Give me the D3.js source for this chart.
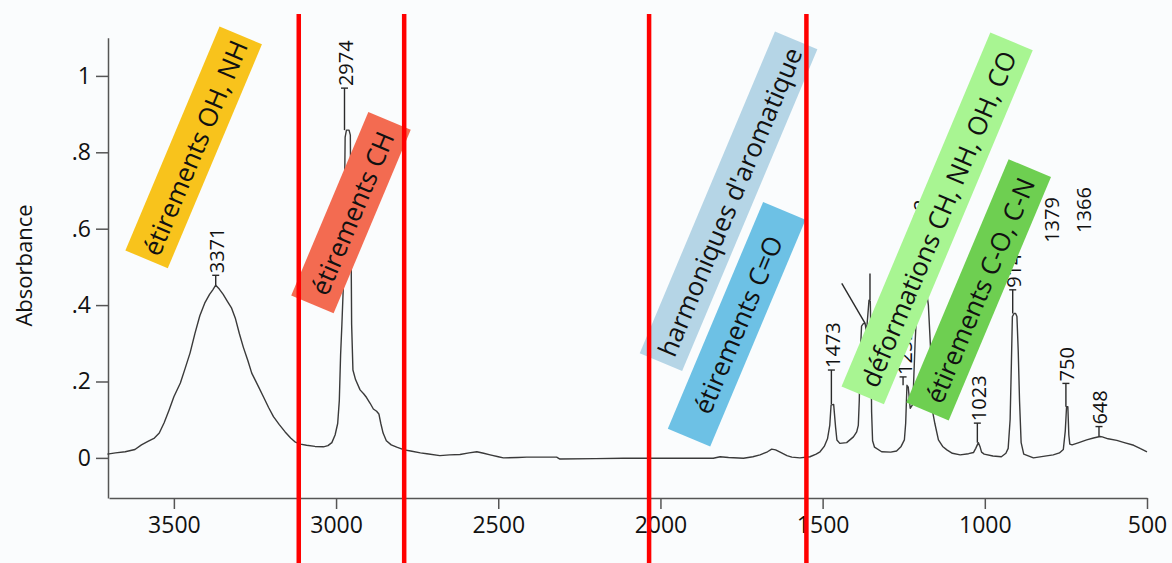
<!DOCTYPE html>
<html>
<head>
<meta charset="utf-8">
<script src="https://cdn.jsdelivr.net/npm/d3@7"></script>
<style>
  html, body { margin: 0; padding: 0; background: #fafcfd; }
  svg { display: block; font-family: "Open Sans", "DejaVu Sans", sans-serif; }
</style>
</head>
<body>
<svg id="chart" width="1172" height="563"></svg>
<script>
// IR spectrum: wavenumber (cm-1) and absorbance
const wavenumbers = [
  3705, 3680, 3650, 3620, 3600, 3580, 3560, 3545, 3530, 3515, 3500, 3480, 3465, 3450, 3435, 3420,
  3405, 3390, 3380, 3371, 3360, 3348, 3335, 3322, 3310, 3298, 3286, 3272, 3260, 3240, 3224, 3208,
  3193, 3175, 3157, 3140, 3127, 3110, 3091, 3065, 3039, 3025, 3013, 3003, 2995, 2990, 2986, 2982,
  2978, 2975, 2972, 2968, 2960, 2956, 2954, 2952, 2948, 2940, 2926, 2915, 2906, 2895, 2885, 2875,
  2868, 2862, 2855, 2845, 2830, 2813, 2790, 2770, 2740, 2720, 2680, 2650, 2618, 2590, 2566, 2545,
  2525, 2500, 2484, 2440, 2412, 2320, 2310, 2200, 2114, 2000, 1900, 1837, 1816, 1790, 1744, 1715,
  1693, 1670, 1657, 1645, 1631, 1610, 1595, 1570, 1539, 1520, 1508, 1495, 1485, 1478, 1474, 1466,
  1460, 1456, 1447, 1426, 1405, 1395, 1390, 1387, 1384, 1380, 1374, 1369, 1365, 1361, 1357, 1353,
  1351, 1349, 1346, 1340, 1318, 1290, 1272, 1258, 1248, 1244, 1240, 1236, 1230, 1222, 1215, 1205,
  1195, 1185, 1174, 1165, 1160, 1154, 1143, 1130, 1117, 1100, 1076, 1050, 1035, 1028, 1020, 1015,
  1010, 1002, 975, 949, 935, 928, 922, 918, 915, 910, 905, 901, 897, 893, 888, 880,
  850, 820, 789, 770, 758, 752, 748, 744, 741, 738, 731, 710, 686, 665, 645, 638,
  620, 593, 570, 541, 520, 500
];
const absorbance = [
  0.010, 0.013, 0.016, 0.022, 0.034, 0.043, 0.052, 0.065, 0.092, 0.125, 0.160, 0.196, 0.235, 0.275, 0.326, 0.372,
  0.405, 0.428, 0.440, 0.452, 0.442, 0.428, 0.410, 0.392, 0.364, 0.325, 0.290, 0.255, 0.222, 0.188, 0.160, 0.132,
  0.108, 0.087, 0.068, 0.052, 0.042, 0.036, 0.033, 0.030, 0.029, 0.032, 0.040, 0.060, 0.090, 0.150, 0.270, 0.350,
  0.440, 0.600, 0.840, 0.858, 0.858, 0.845, 0.600, 0.350, 0.230, 0.205, 0.178, 0.168, 0.158, 0.143, 0.128, 0.122,
  0.115, 0.090, 0.065, 0.045, 0.034, 0.028, 0.021, 0.018, 0.013, 0.011, 0.006, 0.008, 0.009, 0.013, 0.016, 0.012,
  0.008, 0.003, 0.000, 0.001, 0.002, 0.002, -0.003, -0.002, -0.001, -0.001, -0.001, -0.001, 0.003, 0.001, -0.001, 0.003,
  0.008, 0.016, 0.023, 0.021, 0.015, 0.006, 0.002, 0.000, 0.003, 0.010, 0.016, 0.030, 0.050, 0.085, 0.138, 0.140,
  0.080, 0.047, 0.038, 0.040, 0.055, 0.068, 0.085, 0.150, 0.270, 0.345, 0.352, 0.352, 0.330, 0.370, 0.413, 0.410,
  0.300, 0.120, 0.045, 0.028, 0.016, 0.015, 0.018, 0.030, 0.047, 0.090, 0.190, 0.185, 0.130, 0.140, 0.300, 0.470,
  0.490, 0.470, 0.400, 0.250, 0.117, 0.090, 0.047, 0.030, 0.021, 0.012, 0.008, 0.011, 0.014, 0.025, 0.040, 0.030,
  0.015, 0.010, 0.005, 0.003, 0.012, 0.025, 0.100, 0.250, 0.370, 0.378, 0.378, 0.370, 0.280, 0.150, 0.040, 0.010,
  0.000, 0.004, 0.008, 0.013, 0.022, 0.070, 0.134, 0.134, 0.060, 0.036, 0.034, 0.040, 0.047, 0.052, 0.056, 0.055,
  0.050, 0.046, 0.040, 0.033, 0.024, 0.016
];

// Axis ticks
const xTickValues = [3500, 3000, 2500, 2000, 1500, 1000, 500];
const yTickValues = [0, 0.2, 0.4, 0.6, 0.8, 1];
const yTickLabels = ["0", ".2", ".4", ".6", ".8", "1"];

// Labelled peaks: wavenumber, peak absorbance, top of the leader line
const peakLabels = ["3371", "2974", "1473", "1252", "1202", "1023", "914", "750", "648"];
const peakWavenumbers = [3371, 2974, 1473, 1252, 1202, 1023, 914, 750, 648];
const peakAbsorbance = [0.452, 0.858, 0.140, 0.190, 0.490, 0.040, 0.378, 0.134, 0.056];
const leaderTops = [0.478, 0.968, 0.230, 0.212, 0.552, 0.091, 0.440, 0.195, 0.082];

// Doublet labels set apart from their peaks
const doubletLabels = ["1379", "1366"];
const doubletAnchors = [[794, 0.563], [697, 0.589]];
const doubletLeaders = [[[1369, 0.352], [1441, 0.457]], [[1354, 0.413], [1354, 0.483]]];

// Region boundaries (cm-1)
const regionBounds = [3115, 2790, 2035, 1550];

// Band assignments: text, centre (wavenumber, absorbance), box length
const bandTexts = [
  "étirements OH, NH", "étirements CH", "harmoniques d'aromatique",
  "étirements C=O", "déformations CH, NH, OH, CO", "étirements C-O, C-N"
];
const bandCentres = [[3439, 0.813], [2954, 0.642], [1790, 0.672], [1765, 0.350], [1147, 0.627], [1019, 0.440]];
const bandLengths = [243, 199, 349, 246, 384, 264];
const bandColors = ["#f8c31c", "#f36b51", "#b5d5e6", "#6dc1e5", "#a8f592", "#6ecf51"];

const W = 1172, H = 563;
const svg = d3.select("#chart");

const x = d3.scaleLinear().domain([3700, 500]).range([109, 1147]);
const y = d3.scaleLinear().domain([-0.105, 1.1]).range([498, 37.7]);

// Axes
const axisColor = "#555";
const xAxis = svg.append("g")
  .attr("transform", `translate(0,${y(-0.105)})`)
  .call(d3.axisBottom(x).tickValues(xTickValues).tickFormat(d3.format("d"))
    .tickSize(11).tickSizeOuter(0).tickPadding(8));
const yAxis = svg.append("g")
  .attr("transform", `translate(${x(3700) - 1},0)`)
  .call(d3.axisLeft(y).tickValues(yTickValues).tickFormat((d, i) => yTickLabels[i])
    .tickSize(12).tickSizeOuter(0).tickPadding(5));
[xAxis, yAxis].forEach(g => {
  g.selectAll("path.domain").attr("stroke", axisColor).attr("stroke-width", 1.5);
  g.selectAll(".tick line").attr("stroke", axisColor).attr("stroke-width", 1.5);
  g.selectAll(".tick text").attr("fill", "#111").style("font-size", "23px")
    .style("font-family", "'Open Sans', sans-serif");
});

svg.append("text")
  .attr("transform", "translate(23,265.5) rotate(-90)")
  .attr("text-anchor", "middle")
  .attr("dominant-baseline", "central")
  .style("font-size", "22px")
  .attr("fill", "#111")
  .text("Absorbance");

// Spectrum
const spectrum = wavenumbers.map((w, i) => [w, absorbance[i]]);
svg.append("path")
  .datum(spectrum)
  .attr("fill", "none")
  .attr("stroke", "#3a3a3a")
  .attr("stroke-width", 1.4)
  .attr("stroke-linejoin", "round")
  .attr("d", d3.line().x(d => x(d[0])).y(d => y(d[1])));

// Peak leaders and labels
const ink = "#2a2a2a";
const peaks = svg.append("g");
peakLabels.forEach((lab, i) => {
  const px = x(peakWavenumbers[i]);
  peaks.append("line")
    .attr("x1", px).attr("x2", px)
    .attr("y1", y(peakAbsorbance[i])).attr("y2", y(leaderTops[i]))
    .attr("stroke", ink).attr("stroke-width", 1.4);
  peaks.append("line")
    .attr("x1", px - 3.5).attr("x2", px + 3.5)
    .attr("y1", y(leaderTops[i])).attr("y2", y(leaderTops[i]))
    .attr("stroke", ink).attr("stroke-width", 1.4);
  peaks.append("text")
    .attr("transform", `translate(${px + 1},${y(leaderTops[i]) - 2}) rotate(-90)`)
    .attr("dominant-baseline", "central")
    .style("font-size", "20px")
    .attr("fill", "#111")
    .text(lab);
});
doubletLeaders.forEach(seg => {
  peaks.append("line")
    .attr("x1", x(seg[0][0])).attr("y1", y(seg[0][1]))
    .attr("x2", x(seg[1][0])).attr("y2", y(seg[1][1]))
    .attr("stroke", ink).attr("stroke-width", 1.4);
});
doubletLabels.forEach((lab, i) => {
  peaks.append("text")
    .attr("transform", `translate(${x(doubletAnchors[i][0])},${y(doubletAnchors[i][1])}) rotate(-90)`)
    .attr("dominant-baseline", "central")
    .style("font-size", "20px")
    .attr("fill", "#111")
    .text(lab);
});

// Band assignment boxes
const angle = -67.2;
const bands = svg.append("g");
bandTexts.forEach((t, i) => {
  const g = bands.append("g")
    .attr("transform", `translate(${x(bandCentres[i][0])},${y(bandCentres[i][1])}) rotate(${angle})`);
  g.append("rect")
    .attr("x", -bandLengths[i] / 2).attr("y", -23)
    .attr("width", bandLengths[i]).attr("height", 46)
    .attr("fill", bandColors[i]);
  g.append("text")
    .attr("text-anchor", "middle")
    .attr("dominant-baseline", "central")
    .attr("y", 1)
    .style("font-size", "26px")
    .attr("fill", "#111")
    .text(t);
});

// Region boundaries
svg.append("g").selectAll("line")
  .data(regionBounds)
  .join("line")
  .attr("x1", d => x(d)).attr("x2", d => x(d))
  .attr("y1", 14).attr("y2", H)
  .attr("stroke", "#ff0000")
  .attr("stroke-width", 4.5);
</script>
</body>
</html>
